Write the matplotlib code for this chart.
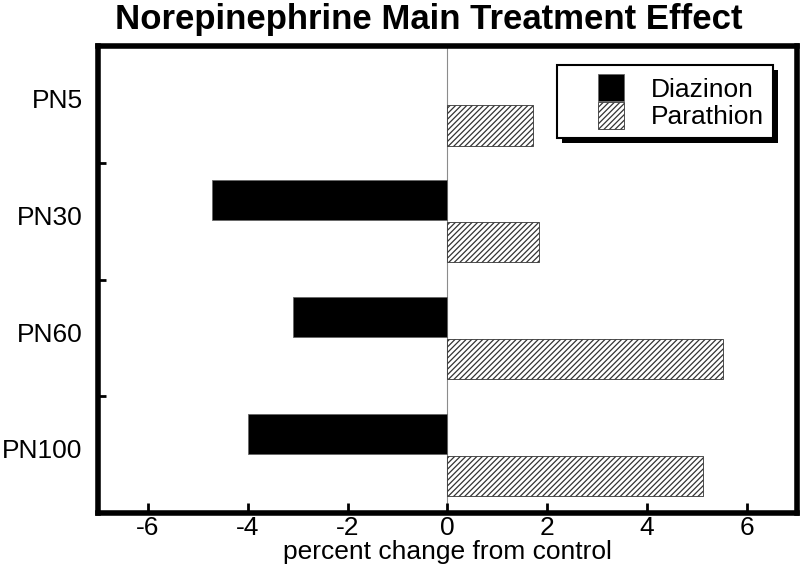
import matplotlib.pyplot as plt
import matplotlib.patheffects as pe
from matplotlib.container import BarContainer
from matplotlib.legend_handler import HandlerPatch, update_from_first_child
from matplotlib.patches import Rectangle
import numpy as np

plt.rcParams['font.family'] = ['Liberation Sans Narrow', 'Liberation Sans', 'DejaVu Sans']
plt.rcParams['hatch.linewidth'] = 0.9

groups = ['PN5', 'PN30', 'PN60', 'PN100']
diazinon = [np.nan, -4.71, -3.10, -4.00]
parathion = [1.72, 1.83, 5.53, 5.13]

y = np.arange(len(groups))
h = 0.345

fig = plt.figure(figsize=(8, 5.67), dpi=100)
ax = fig.add_axes([0.1225, 0.095, 0.8735, 0.824])

ax.axvline(0, color='0.55', lw=0.8, zorder=1)
ax.barh(y - 0.18, diazinon, height=h, color='black', edgecolor='0.4', lw=0.6,
        label='Diazinon', zorder=2)
ax.barh(y + 0.18, parathion, height=h, color='white', edgecolor='0.2', lw=0.6,
        hatch='//////', label='Parathion', zorder=2)

ax.set_xlim(-7, 7)
ax.set_ylim(3.5, -0.5)
ax.set_xticks([-6, -4, -2, 0, 2, 4, 6])
ax.set_xticklabels(['-6', '-4', '-2', '0', '2', '4', '6'])
ax.set_yticks(y - 0.05)
ax.set_yticklabels(groups)
ax.set_yticks([0.5, 1.5, 2.5], minor=True)
ax.tick_params(axis='y', which='major', length=0, pad=11, labelsize=19)
ax.tick_params(axis='y', which='minor', direction='in', length=6, width=2)
ax.tick_params(axis='x', direction='in', length=7, width=2, labelsize=19, pad=2)
for s in ax.spines.values():
    s.set_linewidth(4)

ax.set_xlabel('percent change from control', fontsize=19, labelpad=0)
ax.set_title('Norepinephrine Main Treatment Effect', fontsize=25,
             fontweight='bold', pad=12, x=0.4735)


# small square handle pushed to the right side of the handle box
def square(legend, orig_handle, xdescent, ydescent, width, height, fontsize):
    w = width * 0.46
    return Rectangle((-xdescent + width - w, -ydescent), w, height)


leg = ax.legend(loc='upper right', bbox_to_anchor=(0.966, 0.959), fontsize=19,
                frameon=True, fancybox=False, edgecolor='black', framealpha=1,
                handlelength=2.2, handleheight=1.2, labelspacing=0,
                handletextpad=1.0, borderpad=0.35, borderaxespad=0,
                handler_map={BarContainer: HandlerPatch(patch_func=square,
                                                        update_func=update_from_first_child)})
frame = leg.get_frame()
frame.set_linewidth(1.5)
frame.set_path_effects([pe.SimplePatchShadow(offset=(3.6, -3.6), shadow_rgbFace='black', alpha=1),
                        pe.Normal()])

fig.savefig('out.png', dpi=100)
